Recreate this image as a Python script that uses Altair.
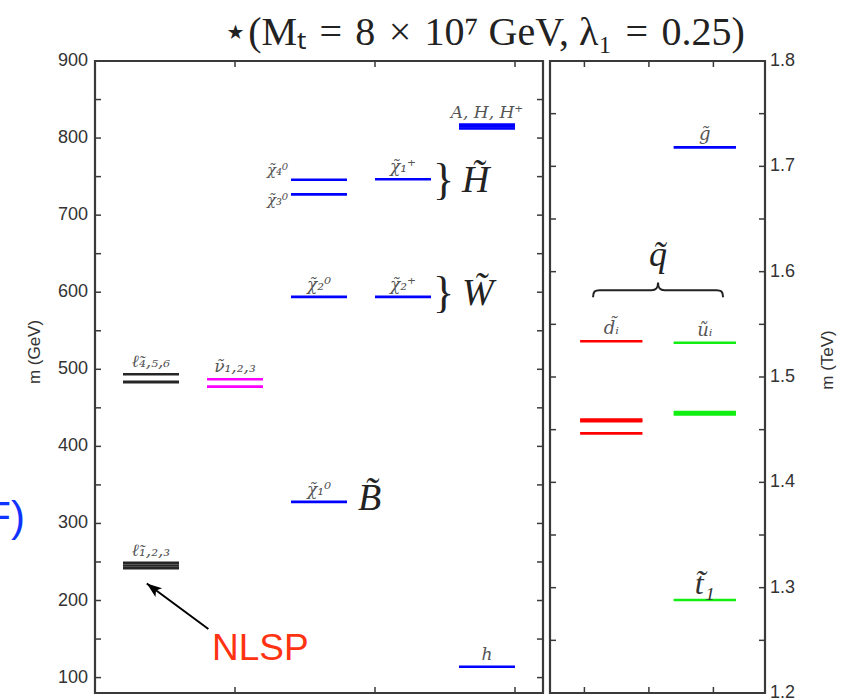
import altair as alt
import pandas as pd

# ---------------- values ----------------
SP = "\u2004"
title_text = [f"⋆(Mₜ{SP}={SP}8{SP}×{SP}10⁷ GeV, λ₁{SP}={SP}0.25)"]
side_text = ["F)"]
nlsp_text = ["NLSP"]
left_axis_title = ["m (GeV)"]
right_axis_title = ["m (TeV)"]

gev_label_values = [100, 200, 300, 400, 500, 600, 700, 800, 900]
gev_tick_values = [100, 150, 200, 250, 300, 350, 400, 450, 500, 550,
                   600, 650, 700, 750, 800, 850]
tev_label_values = [1.2, 1.3, 1.4, 1.5, 1.6, 1.7, 1.8]
tev_tick_values = [1.25, 1.3, 1.35, 1.4, 1.45, 1.5, 1.55, 1.6, 1.65, 1.7, 1.75]
left_x_ticks = [1, 2, 3]
right_x_ticks = [0.16, 0.46, 0.76]

# left panel: masses in GeV
left_columns = ["slepton", "sneutrino", "neutralino", "chargino", "higgs"]
left_column_x = [0.4, 1.0, 1.6, 2.2, 2.8]
left_column_colour = ["#262626", "#ff00ff", "#0000ff", "#0000ff", "#0000ff"]

left_level_column = (["slepton"] * 6 + ["sneutrino"] * 2 + ["neutralino"] * 4
                     + ["chargino"] * 2 + ["higgs"] * 4)
left_level_mass = [249.0, 245.5, 242.0, 493.5, 483.8, 483.2,
                   487.0, 477.5,
                   328.0, 594.0, 727.0, 746.0,
                   594.0, 746.5,
                   114.0, 812.5, 815.0, 817.5]

left_label_text = ["ℓ̃₄,₅,₆", "ν̃₁,₂,₃", "ℓ̃₁,₂,₃", "χ̃₁⁺", "χ̃₂⁰", "χ̃₂⁺",
                   "χ̃₁⁰", "h", "A, H, H⁺"]
left_label_column = ["slepton", "sneutrino", "slepton", "chargino", "neutralino",
                     "chargino", "neutralino", "higgs", "higgs"]
left_label_mass = [493.5, 487.0, 249.0, 746.5, 594.0, 594.0, 328.0, 114.0, 817.5]

side_label_text = ["χ̃₄⁰", "χ̃₃⁰"]
side_label_mass = [746.0, 727.0]

group_text = ["H̃", "W̃"]
group_mass = [739.8, 594.0]
bino_text = ["B̃"]
bino_mass = [328.0]

arrow_head_x = [0.37]
arrow_head_mass = [222.0]
arrow_tail_x = [0.81]
arrow_tail_mass = [163.0]
nlsp_x = [0.836]
nlsp_mass = [122.8]

# right panel: masses in TeV
right_columns = ["down", "up"]
right_column_x = [0.285, 0.72]
right_kinds = ["down", "up", "stop", "gluino"]
right_kind_colour = ["#ff0000", "#11ee11", "#11ee11", "#0000ff"]
right_level_kind = ["down"] * 4 + ["up"] * 3 + ["stop", "gluino"]
right_level_column = ["down"] * 4 + ["up"] * 3 + ["up", "up"]
right_level_mass = [1.534, 1.4595, 1.458, 1.4465,
                    1.5325, 1.4668, 1.4645,
                    1.2883, 1.718]

right_label_text = ["d̃ᵢ", "ũᵢ", "g̃"]
right_label_column = ["down", "up", "up"]
right_label_mass = [1.534, 1.5325, 1.718]
stop_label_text = ["t̃₁"]
stop_label_mass = [1.2883]
squark_text = ["q̃"]

# ---------------- layout / style ----------------
W_L, W_R, H = 448, 215, 632
HALF_L, HALF_R = 0.2, 0.145
FRAME = "#3a3a3a"
TXT = "#555555"
DARK = "#222222"
SERIF = "Liberation Serif"
MATH = "DejaVu Serif"
SANS = "Liberation Sans"

lx = dict(zip(left_columns, left_column_x))
rx = dict(zip(right_columns, right_column_x))

xs_l = alt.Scale(domain=[0, 3.2], nice=False, zero=False)
ys_l = alt.Scale(domain=[80, 900], nice=False, zero=False)
xs_r = alt.Scale(domain=[0, 1], nice=False, zero=False)
ys_r = alt.Scale(domain=[1.2, 1.8], nice=False, zero=False)


def one(text):
    return pd.DataFrame({"text": text})


# ---------- left panel ----------
lev_l = pd.DataFrame({"column": left_level_column, "mass": left_level_mass})
lev_l["xc"] = lev_l["column"].map(lx)
lab_l = pd.DataFrame({"text": left_label_text, "column": left_label_column,
                      "mass": left_label_mass})
lab_l["xc"] = lab_l["column"].map(lx)
side_l = pd.DataFrame({"text": side_label_text, "mass": side_label_mass,
                       "xc": lx["neutralino"]})
grp = pd.DataFrame({"text": group_text, "mass": group_mass, "xc": lx["chargino"]})
bino = pd.DataFrame({"text": bino_text, "mass": bino_mass, "xc": lx["neutralino"]})
arrow = pd.DataFrame({"hx": arrow_head_x, "hm": arrow_head_mass,
                      "tx": arrow_tail_x, "tm": arrow_tail_mass})
nlsp = pd.DataFrame({"text": nlsp_text, "x": nlsp_x, "mass": nlsp_mass})
gev_t = pd.DataFrame({"v": gev_tick_values})
gev_l = pd.DataFrame({"v": gev_label_values})
lxt = pd.DataFrame({"v": left_x_ticks})

levels_left = alt.Chart(lev_l).mark_rule(strokeWidth=2.6).transform_calculate(
    x1=f"datum.xc - {HALF_L}", x2=f"datum.xc + {HALF_L}"
).encode(
    x=alt.X("x1:Q", scale=xs_l, axis=None),
    x2="x2:Q",
    y=alt.Y("mass:Q", scale=ys_l, axis=None),
    color=alt.Color("column:N", scale=alt.Scale(domain=left_columns,
                                                 range=left_column_colour), legend=None),
)

gev_labels = alt.Chart(gev_l).mark_text(
    font=SANS, fontSize=18, color="#333", align="right", baseline="middle"
).encode(y=alt.Y("v:Q", axis=None), x=alt.value(-7), text=alt.Text("v:Q", format="d"))
gev_title = alt.Chart(one(left_axis_title)).mark_text(
    font=SANS, fontSize=17, color="#333", angle=270, align="center", baseline="middle"
).encode(x=alt.value(-60), y=alt.value(H / 2 - 25), text="text:N")

labels_left = alt.Chart(lab_l).mark_text(
    font=MATH, fontStyle="italic", fontSize=17, color=TXT, dy=-7,
    baseline="alphabetic", align="center"
).encode(x=alt.X("xc:Q", axis=None), y=alt.Y("mass:Q", axis=None), text="text:N")

side4 = alt.Chart(side_l).transform_filter(alt.datum.text == side_label_text[0]).mark_text(
    font=MATH, fontStyle="italic", fontSize=15, color=TXT, align="right",
    baseline="middle", dx=-3, dy=-10
).transform_calculate(xl=f"datum.xc - {HALF_L}").encode(
    x=alt.X("xl:Q", axis=None), y=alt.Y("mass:Q", axis=None), text="text:N")
side3 = alt.Chart(side_l).transform_filter(alt.datum.text == side_label_text[1]).mark_text(
    font=MATH, fontStyle="italic", fontSize=15, color=TXT, align="right",
    baseline="middle", dx=-3, dy=6
).transform_calculate(xl=f"datum.xc - {HALF_L}").encode(
    x=alt.X("xl:Q", axis=None), y=alt.Y("mass:Q", axis=None), text="text:N")

braces = alt.Chart(grp).mark_text(
    text="}", font=SERIF, fontSize=44, color=DARK, align="left", baseline="middle",
    dx=2, dy=-3
).transform_calculate(xr=f"datum.xc + {HALF_L}").encode(
    x=alt.X("xr:Q", axis=None), y=alt.Y("mass:Q", axis=None))
group_letters = alt.Chart(grp).mark_text(
    font=SERIF, fontStyle="italic", fontSize=38, color=DARK, align="left",
    baseline="middle", dx=31, dy=-3
).transform_calculate(xr=f"datum.xc + {HALF_L}").encode(
    x=alt.X("xr:Q", axis=None), y=alt.Y("mass:Q", axis=None), text="text:N")
bino_letter = alt.Chart(bino).mark_text(
    font=SERIF, fontStyle="italic", fontSize=38, color=DARK, align="left",
    baseline="middle", dx=11, dy=-3
).transform_calculate(xr=f"datum.xc + {HALF_L}").encode(
    x=alt.X("xr:Q", axis=None), y=alt.Y("mass:Q", axis=None), text="text:N")

arrow_line = alt.Chart(arrow).mark_rule(color="black", strokeWidth=2).encode(
    x=alt.X("tx:Q", axis=None), y=alt.Y("tm:Q", axis=None), x2="hx:Q", y2="hm:Q")
arrow_tip = alt.Chart(arrow).mark_point(
    shape="M 0 0 L 0.55 1.5 L 0 1.15 L -0.55 1.5 Z", filled=True, color="black",
    opacity=1, size=400, angle=307, strokeWidth=0
).encode(x=alt.X("hx:Q", axis=None), y=alt.Y("hm:Q", axis=None))
nlsp_label = alt.Chart(nlsp).mark_text(
    font=SANS, fontSize=37, color="#ff3311", align="left", baseline="alphabetic"
).encode(x=alt.X("x:Q", axis=None), y=alt.Y("mass:Q", axis=None), text="text:N")

tick_style = dict(color=FRAME, strokeWidth=1.5)
ticks_ll = alt.Chart(gev_t).mark_rule(**tick_style).encode(
    y=alt.Y("v:Q", axis=None), x=alt.value(0), x2=alt.value(6))
ticks_lr = alt.Chart(gev_t).mark_rule(**tick_style).encode(
    y=alt.Y("v:Q", axis=None), x=alt.value(W_L - 6), x2=alt.value(W_L))
ticks_lt = alt.Chart(lxt).mark_rule(**tick_style).encode(
    x=alt.X("v:Q", axis=None), y=alt.value(0), y2=alt.value(6))
ticks_lb = alt.Chart(lxt).mark_rule(**tick_style).encode(
    x=alt.X("v:Q", axis=None), y=alt.value(H - 6), y2=alt.value(H))

title_mark = alt.Chart(one(title_text)).mark_text(
    font=SERIF, fontSize=40, color=DARK, align="center", baseline="middle"
).encode(x=alt.value(389), y=alt.value(-28), text="text:N")
side_mark = alt.Chart(one(side_text)).mark_text(
    font=SANS, fontSize=42, color="#1133ff", align="right", baseline="middle"
).encode(x=alt.value(-70), y=alt.value(457), text="text:N")

left = alt.layer(
    levels_left, ticks_ll, ticks_lr, ticks_lt, ticks_lb, gev_labels, gev_title,
    labels_left, side4, side3, braces, group_letters, bino_letter,
    arrow_line, arrow_tip, nlsp_label, title_mark, side_mark
).properties(width=W_L, height=H)

# ---------- right panel ----------
lev_r = pd.DataFrame({"kind": right_level_kind, "column": right_level_column,
                      "mass": right_level_mass})
lev_r["xc"] = lev_r["column"].map(rx)
lab_r = pd.DataFrame({"text": right_label_text, "column": right_label_column,
                      "mass": right_label_mass})
lab_r["xc"] = lab_r["column"].map(rx)
stop_r = pd.DataFrame({"text": stop_label_text, "mass": stop_label_mass, "xc": rx["up"]})
squark_mass = max(m for m, k in zip(right_level_mass, right_level_kind) if k in ("down", "up"))
sq = pd.DataFrame({"text": squark_text, "mass": [squark_mass],
                   "xc": [sum(right_column_x) / len(right_column_x)]})
tev_t = pd.DataFrame({"v": tev_tick_values})
tev_l = pd.DataFrame({"v": tev_label_values})
rxt = pd.DataFrame({"v": right_x_ticks})

levels_right = alt.Chart(lev_r).mark_rule(strokeWidth=2.6).transform_calculate(
    x1=f"datum.xc - {HALF_R}", x2=f"datum.xc + {HALF_R}"
).encode(
    x=alt.X("x1:Q", scale=xs_r, axis=None),
    x2="x2:Q",
    y=alt.Y("mass:Q", scale=ys_r, axis=None),
    color=alt.Color("kind:N", scale=alt.Scale(domain=right_kinds,
                                               range=right_kind_colour), legend=None),
)
tev_labels = alt.Chart(tev_l).mark_text(
    font=SANS, fontSize=18, color="#333", align="left", baseline="middle"
).encode(y=alt.Y("v:Q", axis=None), x=alt.value(W_R + 5),
         text=alt.Text("v:Q", format=".1f"))
tev_title = alt.Chart(one(right_axis_title)).mark_text(
    font=SANS, fontSize=17, color="#333", angle=270, align="center", baseline="middle"
).encode(x=alt.value(W_R + 63), y=alt.value(H / 2 - 17), text="text:N")

labels_right = alt.Chart(lab_r).mark_text(
    font=MATH, fontStyle="italic", fontSize=18, color=TXT, dy=-7,
    baseline="alphabetic", align="center"
).encode(x=alt.X("xc:Q", axis=None), y=alt.Y("mass:Q", axis=None), text="text:N")
stop_label = alt.Chart(stop_r).mark_text(
    font=SERIF, fontStyle="italic", fontSize=32, color="#333", dy=-6,
    baseline="alphabetic", align="center"
).encode(x=alt.X("xc:Q", axis=None), y=alt.Y("mass:Q", axis=None), text="text:N")
squark_label = alt.Chart(sq).mark_text(
    font=SERIF, fontStyle="italic", fontSize=36, color=DARK, dy=-75,
    baseline="alphabetic", align="center"
).encode(x=alt.X("xc:Q", axis=None), y=alt.Y("mass:Q", axis=None), text="text:N")
squark_brace = alt.Chart(sq).mark_point(
    shape=("M -1 0.11 C -1 0.02 -0.97 0 -0.9 0 L -0.1 0 C -0.03 0 0 -0.03 0 -0.12 "
           "C 0 -0.03 0.03 0 0.1 0 L 0.9 0 C 0.97 0 1 0.02 1 0.11"),
    filled=False, color=DARK, opacity=1, strokeWidth=2, size=16900, yOffset=-51
).encode(x=alt.X("xc:Q", axis=None), y=alt.Y("mass:Q", axis=None))

ticks_rl = alt.Chart(tev_t).mark_rule(**tick_style).encode(
    y=alt.Y("v:Q", axis=None), x=alt.value(0), x2=alt.value(6))
ticks_rr = alt.Chart(tev_t).mark_rule(**tick_style).encode(
    y=alt.Y("v:Q", axis=None), x=alt.value(W_R - 6), x2=alt.value(W_R))
ticks_rt = alt.Chart(rxt).mark_rule(**tick_style).encode(
    x=alt.X("v:Q", axis=None), y=alt.value(0), y2=alt.value(6))
ticks_rb = alt.Chart(rxt).mark_rule(**tick_style).encode(
    x=alt.X("v:Q", axis=None), y=alt.value(H - 6), y2=alt.value(H))

right = alt.layer(
    levels_right, ticks_rl, ticks_rr, ticks_rt, ticks_rb, tev_labels, tev_title,
    labels_right, stop_label, squark_label, squark_brace
).properties(width=W_R, height=H)

chart = alt.hconcat(left, right, spacing=7, bounds="flush").resolve_scale(
    color="independent", x="independent", y="independent"
).properties(
    autosize=alt.AutoSizeParams(type="none"),
    padding={"left": 95, "top": 61, "right": 747, "bottom": 639},
).configure_view(stroke=FRAME, strokeWidth=2.2)

chart.save("out.html", embed_options={"renderer": "svg", "actions": False})
